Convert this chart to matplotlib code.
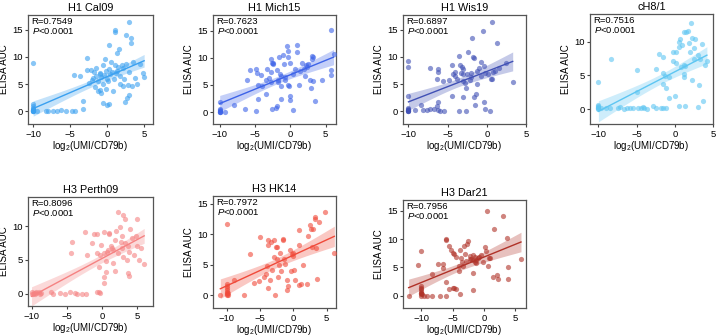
import numpy as np
import matplotlib
matplotlib.use('Agg')
import matplotlib.pyplot as plt

plt.rcParams['font.family'] = ['Liberation Sans', 'DejaVu Sans']
plt.rcParams['mathtext.fontset'] = 'custom'
plt.rcParams['mathtext.rm'] = 'Liberation Sans'
plt.rcParams['mathtext.it'] = 'Liberation Sans:italic'

titles = ['H1 Cal09', 'H1 Mich15', 'H1 Wis19', 'cH8/1', 'H3 Perth09', 'H3 HK14', 'H3 Dar21']
r_values = ['0.7549', '0.7623', '0.6897', '0.7516', '0.8096', '0.7972', '0.7956']
colors = ['#3aa0f0', '#3d63e8', '#4050b5', '#5ec6f2', '#f58282', '#f04a3a', '#b03228']

cal09_x = [-10, -10, -10, -10, -10, -10, -10, -10, -10, -10, -10, -10,
           -9.5, -8.2, -8.0, -7.3, -6.8, -6.2, -5.5, -4.8, -4.3,
           -4.5, -3.7, -3.2, -3.2, -2.7, -2.7, -2.2, -2.0, -1.8, -1.7, -1.5, -1.5, -1.3, -1.2,
           -1.0, -1.0, -0.8, -0.8, -0.6, -0.5, -0.5, -0.3, -0.2, -0.1, 0.0, 0.0, 0.1, 0.2, 0.3,
           0.3, 0.4, 0.5, 0.6, 0.8, 1.0, 1.1, 1.1, 1.2, 1.3, 1.5, 1.6, 1.7, 1.8, 2.0, 2.2, 2.3,
           2.4, 2.5, 2.6, 2.7, 2.8, 2.9, 3.0, 3.0, 3.2, 3.2, 3.3, 3.5, 3.8, 4.0, 4.5, 4.8, 5.0,
           -2.5, -1.9, -0.9, 0.9, -0.4, 1.4, 2.1]
cal09_y = [8.9, 1.4, 1.0, 0.7, 0.5, 0.3, 0.2, 0.1, 0.0, 0.0, 0.1, 0.3,
           0.1, 0.1, 0.0, 0.0, 0.1, 0.2, 0.0, 0.0, 0.0,
           6.6, 6.5, 2.0, 0.5, 9.9, 7.7, 7.6, 5.8, 7.2, 4.5, 6.5, 8.0, 3.8, 5.5,
           6.8, 7.0, 6.3, 3.3, 1.5, 5.0, 8.5, 9.6, 7.5, 4.2, 6.0, 1.2, 5.5, 7.8, 12.2,
           1.3, 6.8, 9.0, 7.2, 3.8, 8.5, 14.9, 14.6, 7.0, 10.8, 8.2, 11.5, 6.5, 5.0, 8.6, 8.0, 6.0,
           1.8, 14.0, 8.8, 2.4, 4.9, 16.4, 3.0, 7.2, 13.5, 12.6, 4.6, 9.0, 6.2, 5.0, 8.8, 7.0, 6.4,
           5.2, 6.2, 4.0, 6.0, 6.6, 7.5, 4.6]

mich15_x = [-10, -10, -10, -10, -10, -10, -10, -9.2, -8.0, -6.4, -6.2, -5.7, -4.9, -4.7, -4.6,
            -4.6, -4.8, -4.2, -4.0, -3.5, -3.4, -3.3, -3.0, -2.8, -2.8, -2.7, -2.55, -2.5, -2.4,
            -2.6, -1.9, -2.0, -1.9, -1.8, -1.7, -1.6, -1.5, -1.4, -1.3, -1.4, -1.0, -0.9, -0.8,
            -0.7, -0.4, -0.5, -0.4, -0.3, -0.2, 0.0, 0.0, 0.3, 0.0, 0.3, 0.6, 0.9, 0.9, 1.2,
            1.3, 1.6, 2.0, 2.2, 2.3, 2.5, 2.8, 2.9, 3.0, 3.0, 3.2, 3.5, 4.5, 5.7, 5.7, 5.8,
            6.1, 3.2, 1.9]
mich15_y = [1.8, 0.5, 0.3, 0.2, 0.1, 0.0, 0.0, 0.0, 1.3, 0.55, 5.9, 7.8, 8.0, 7.2, 5.0,
            2.5, 0.25, 6.9, 4.8, 5.9, 3.3, 8.0, 6.2, 7.3, 9.7, 5.6, 9.0, 8.8, 9.1,
            0.6, 1.15, 0.8, 7.7, 6.0, 5.5, 10.2, 7.0, 4.8, 6.7, 2.5, 10.6, 8.8, 6.5,
            6.0, 11.3, 12.2, 10.2, 5.0, 4.8, 3.0, 2.3, 0.4, 9.0, 7.0, 8.0, 12.4, 11.0, 5.0,
            7.5, 9.0, 6.6, 8.6, 8.4, 8.9, 6.0, 4.5, 10.4, 9.8, 5.8, 2.1, 6.0, 15.2, 7.8, 6.8,
            10.7, 10.2, 8.0]

wis19_x = [-10, -10, -10, -10, -10, -10, -10, -10, -10, -10, -9.2, -8.4, -8.2, -7.65, -7.2,
           -7.3, -6.7, -6.2, -6.2, -6.3, -6.2, -6.3, -6.2, -6.0, -5.6, -5.5, -4.8, -4.5, -4.4,
           -4.0, -4.1, -3.5, -3.6, -3.4, -3.2, -3.1, -3.0, -3.0, -3.05, -2.7, -2.7, -2.46, -2.2,
           -2.0, -2.0, -1.9, -1.8, -1.7, -1.6, -1.5, -1.37, -1.3, -1.0, -0.8, -0.8, -0.4, -0.2,
           -0.47, 0.6, -0.3, -0.2, 0.2, 0.4, 0.5, 0.6, 0.8, 1.33, 1.0, 1.5, 2.5, 3.3,
           -3.8, -2.5, -1.2, -2.8, -3.3, -4.3]
wis19_y = [9.2, 8.1, 2.9, 0.6, 0.4, 0.3, 0.2, 0.1, 0.0, 0.0, 0.2, 1.2, 0.2, 0.3, 0.5,
           8.0, 0.4, 7.8, 7.2, 6.0, 1.7, 1.0, 0.2, 0.1, 5.6, 0.1, 5.8, 8.6, 2.9,
           6.5, 7.3, 0.0, 10.2, 8.6, 8.2, 7.8, 6.8, 5.5, 2.6, 4.3, 0.1, 10.9, 5.8,
           7.0, 6.3, 13.5, 10.0, 9.8, 2.7, 1.2, 3.2, 5.0, 8.0, 6.5, 9.0, 1.8, 0.4,
           14.8, 16.4, 8.3, 7.0, 6.8, 0.1, 6.0, 5.9, 7.2, 12.6, 7.5, 8.0, 8.9, 5.4,
           6.0, 6.8, 7.5, 5.2, 7.0, 6.8]

ch81_x = [-10, -10, -10, -10, -10, -10, -10, -9.6, -9.0, -8.4, -8.5, -7.5, -7.2, -6.7, -6.3,
          -5.8, -5.5, -4.9, -4.9, -4.8, -4.4, -4.2, -4.0, -3.6, -2.8, -2.5, -2.43, -2.1, -1.8,
          -1.5, -1.2, -1.6, -1.5, -1.3, -1.57, -1.2, -0.7, -0.7, 0.03, -0.3, -0.19, 0.2, 0.5,
          0.5, 0.6, 1.24, 1.3, 1.2, 1.3, 1.2, 1.2, 1.5, 1.7, 2.07, 1.9, 2.0, 2.2, 2.5, 2.7,
          2.3, 3.2, 3.0, 3.3, 3.7, 3.5, 4.2, 4.0, 0.7, 1.0, 0.1, 0.8, 2.5, 3.0]
ch81_y = [4.06, 0.6, 0.4, 0.3, 0.2, 0.1, 0.0, 0.1, 0.1, 7.5, 0.2, 0.2, 0.3, 0.0, 0.1,
          0.1, 0.1, 5.8, 2.5, 0.2, 0.2, 0.3, 0.2, 0.0, 0.4, 0.1, 6.0, 8.2, 0.2,
          0.2, 0.1, 7.8, 5.4, 4.9, 3.8, 3.1, 4.8, 1.7, 2.0, 7.2, 8.5, 8.5, 0.5,
          9.2, 10.0, 11.4, 0.45, 6.5, 6.4, 5.2, 4.8, 11.5, 11.6, 12.7, 9.8, 8.5, 10.5, 7.5, 10.4,
          4.3, 3.6, 0.3, 7.5, 1.25, 9.6, 7.1, 6.5, 10.4, 9.5, 6.8, 6.2, 9.0, 8.0]

perth09_x = [-10, -9.9, -9.7, -9.5, -9.3, -9.0, -8.8, -8.6, -9.8, -9.4, -7.2, -7.0, -6.0, -5.2,
             -4.5, -3.8, -3.5, -2.8, -2.3, -0.8, -0.5, -0.3, -4.3, -4.46, -2.43, -2.2, -1.5,
             -1.2, -0.77, -0.8, -0.5, -0.3, 0.3, 0.27, 0.2, 0.5, 0.6, 0.7, 0.8, 1.0, 1.0, 1.2,
             1.4, 1.5, 1.8, 1.5, 2.0, 2.2, 2.3, 2.5, 2.6, 2.8, 3.0, 3.0, 3.2, 3.3, 3.6, 3.8,
             3.5, 3.8, 4.0, 4.2, 4.9, 4.5, 4.8, 5.0, 5.2, 5.5, 5.95, 0.3, -0.2, 1.8, 2.8, 3.6]
perth09_y = [0.0, 0.2, 0.1, 0.0, 0.1, 0.2, 0.0, 0.1, 0.0, 0.2, 0.3, 0.0, 0.1, 0.0,
             0.2, 0.1, 0.0, 0.0, 0.0, 0.2, 0.2, 0.1, 7.7, 6.1, 9.2, 5.7, 7.5,
             8.9, 8.8, 6.0, 4.0, 5.8, 9.2, 1.6, 2.5, 3.2, 4.8, 6.2, 6.5, 8.9, 9.0, 7.0,
             6.8, 6.5, 3.4, 4.5, 9.3, 6.0, 12.1, 9.8, 7.6, 8.5, 11.7, 5.5, 11.0, 7.5, 3.1, 2.7,
             5.0, 6.2, 9.5, 8.2, 11.1, 5.8, 8.5, 7.0, 5.0, 6.8, 4.4, 6.0, 7.2, 8.0, 6.7, 7.0]

hk14_x = [-10, -10, -10, -10, -10, -10, -10, -10, -10, -9.9, -9.8, -11.0, -7.5, -8.9, -6.5,
          -6.0, -5.07, -5.2, -4.5, -4.2, -4.0, -3.86, -3.8, -3.9, -3.4, -3.5, -3.2, -3.0, -2.9,
          -2.75, -2.6, -2.5, -2.5, -2.3, -2.2, -2.0, -1.8, -1.6, -1.5, -1.4, -1.2, -0.9, -1.0,
          -0.8, -0.5, -0.3, -0.2, 0.0, 0.0, 0.1, 0.2, 0.77, 0.8, 0.8, 1.2, 2.0, 2.2, 2.5, 2.7,
          3.0, 3.2, 3.3, 3.4, 3.5, 3.8, 4.75, 6.15, 2.8, 1.5]
hk14_y = [11.66, 1.8, 1.5, 1.2, 0.9, 0.6, 0.4, 0.2, 0.0, 0.3, 0.1, 0.0, 0.0, 2.5, 6.7,
          2.0, 9.5, 2.4, 3.0, 3.5, 4.8, 1.15, 8.3, 9.0, 8.7, 2.5, 4.2, 9.0, 6.2,
          0.05, 8.0, 7.9, 6.0, 3.0, 5.0, 7.0, 4.0, 9.3, 9.0, 6.0, 5.2, 0.8, 2.5,
          1.5, 7.5, 4.0, 6.8, 6.5, 7.0, 4.2, 2.5, 10.67, 8.2, 1.6, 1.8, 1.8, 9.8, 11.5, 10.8,
          10.8, 12.9, 12.5, 7.8, 2.7, 12.0, 13.7, 6.9, 8.0, 5.0]

dar21_x = [-12.0, -10, -10.5, -10, -10, -10, -10, -10, -10, -10, -9.8, -9.6, -10.1, -9.1, -8.25,
           -8.2, -7.4, -7.0, -6.5, -6.55, -6.0, -6.0, -6.1, -6.0, -5.5, -5.5, -5.2, -5.0, -5.0,
           -4.8, -4.7, -4.5, -4.4, -4.0, -3.8, -4.0, -3.8, -3.7, -3.5, -3.2, -3.0, -2.7, -2.47,
           -2.3, -2.2, -2.0, -1.8, -1.7, -1.5, -1.7, -1.5, -1.3, -1.2, -1.8, -0.8, -0.5, -0.2,
           0.17, 0.3, 0.44, 0.6, 0.8, 1.0, 1.5, 1.66, 2.0, 2.3, 3.0, 3.67, 3.8, 3.8, 5.9,
           -1.0, -3.3, -2.8]
dar21_y = [0.0, 7.9, 5.35, 1.7, 1.4, 1.1, 0.8, 0.5, 0.3, 0.0, 0.2, 0.0, 0.4, 0.0, 3.9,
           0.0, 5.6, 0.0, 5.6, 4.9, 10.0, 9.9, 2.4, 0.0, 1.2, 8.8, 8.0, 7.6, 1.3,
           7.4, 1.3, 6.8, 1.1, 5.3, 0.2, 4.4, 8.0, 6.6, 6.0, 8.8, 7.3, 9.2, 9.6,
           7.0, 6.5, 6.5, 6.3, 7.2, 6.0, 0.9, 6.8, 6.3, 5.8, 4.0, 6.9, 7.2, 6.0,
           8.5, 7.8, 15.0, 5.2, 6.6, 6.7, 3.3, 11.8, 3.6, 3.0, 14.0, 10.2, 5.1, 2.9, 6.4,
           6.7, 5.3, 6.2]

xs = [cal09_x, mich15_x, wis19_x, ch81_x, perth09_x, hk14_x, dar21_x]
ys = [cal09_y, mich15_y, wis19_y, ch81_y, perth09_y, hk14_y, dar21_y]

# axes boxes in pixels (left, top, right, bottom) and axis limits
boxes = [(28, 15, 153, 124), (213, 15, 336, 124), (403, 15, 526, 124), (590, 14, 713, 124),
         (28, 197, 153, 306), (213, 196, 336, 308), (403, 200, 526, 308)]
xlims = [(-10.7, 6.2), (-10.95, 6.45), (-10.7, 3.7), (-11.1, 4.9),
         (-10.5, 7.2), (-12.1, 6.4), (-12.9, 6.7)]
ylims = [(-2.3, 17.7), (-2.2, 17.9), (-2.3, 17.7), (-2.2, 14.1),
         (-1.8, 14.3), (-2.1, 16.3), (-2.2, 16.9)]

W, H = 720, 336
fig = plt.figure(figsize=(7.2, 3.36), dpi=100)

for i in range(7):
    l, t, r, b = boxes[i]
    ax = fig.add_axes([l / W, 1 - b / H, (r - l) / W, (b - t) / H])
    x = np.array(xs[i], dtype=float)
    y = np.array(ys[i], dtype=float)
    c = colors[i]
    ax.scatter(x, y, s=14, color=c, alpha=0.6, linewidths=0, zorder=3)

    # linear fit with confidence band
    slope, icept = np.polyfit(x, y, 1)
    n = len(x)
    xx = np.linspace(x.min(), x.max(), 100)
    yy = slope * xx + icept
    resid = y - (slope * x + icept)
    s = np.sqrt(np.sum(resid ** 2) / (n - 2))
    sxx = np.sum((x - x.mean()) ** 2)
    se = s * np.sqrt(1 / n + (xx - x.mean()) ** 2 / sxx)
    ax.fill_between(xx, yy - 1.98 * se, yy + 1.98 * se, color=c, alpha=0.3, lw=0, zorder=2)
    ax.plot(xx, yy, color=c, lw=1, zorder=4)

    ax.set_xlim(*xlims[i])
    ax.set_ylim(*ylims[i])
    ax.set_xticks([-10, -5, 0, 5])
    yt = [0, 5, 10] if ylims[i][1] < 15 else [0, 5, 10, 15]
    ax.set_yticks(yt)
    ax.tick_params(labelsize=6.8, length=2.5, width=0.8, pad=1.5, color='#444444')
    for sp in ax.spines.values():
        sp.set_color('#555555')
        sp.set_linewidth(0.9)
    ax.set_title(titles[i], fontsize=7.8, pad=3)
    ax.set_xlabel('log$_2$(UMI/CD79b)', fontsize=7, labelpad=0.5)
    ax.set_ylabel('ELISA AUC', fontsize=7, labelpad=2)
    ax.text(0.03, 0.98, 'R=' + r_values[i] + '\n$P$<0.0001', transform=ax.transAxes,
            fontsize=6.8, va='top', ha='left', linespacing=1.0)

fig.savefig('out.png', dpi=100)
